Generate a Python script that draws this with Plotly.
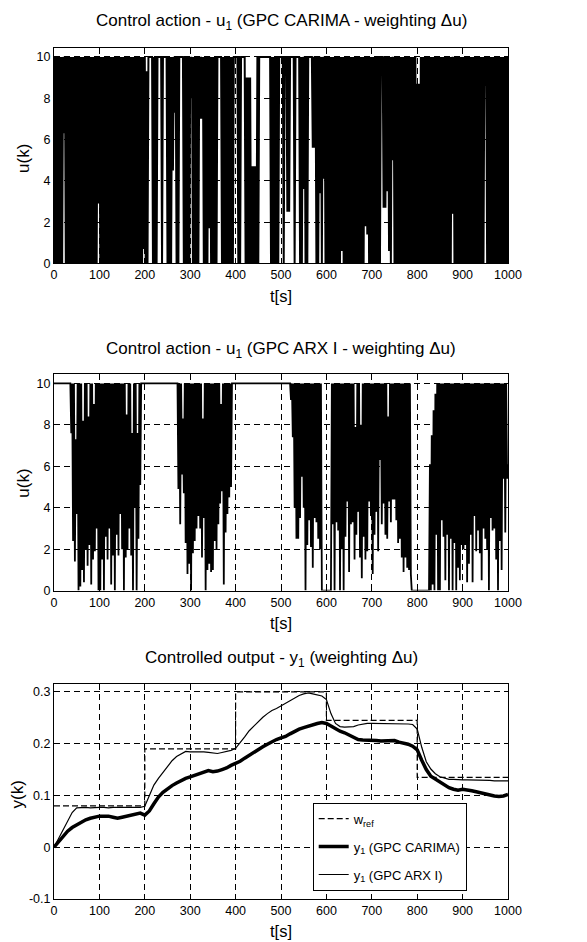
import plotly.graph_objects as go

# ---------------- data ----------------
t_u = list(range(0, 1001, 2))          # control samples [s]

u_carima = [
    10,0,10,0,10,0,10,0,10,0,10,6.3,10,0,10,0,10,0,10,0,
    10,0,10,0,10,0,10,0,10,0,10,0,10,0,10,0,10,0,10,0,
    10,0,10,0,10,0,10,0,10,2.9,10,0,10,0,10,0,10,0,10,0,
    10,0,10,0,10,0,10,0,10,0,10,0,10,0,10,0,10,0,10,0,
    10,0,10,0,10,0,10,0,10,0,10,0,10,0,10,0,10,0,10,0.7,
    10,0,9.3,0,10,10,10,10,10,0,10,0,10,0,10,10,10,10,10,0,
    10,10,10,10,10,0,10,0,10,0,10,4.5,10,7.3,10,0,10,0,10,10,
    10,10,10,0,10,0,10,0,10,0,10,8,10,0,10,0,10,0,10,0,
    10,7,10,7,10,0,10,0,10,0,10,1.7,10,0,10,0,10,0,10,0,
    10,10,10,10,10,0,10,0,10,0,10,0,10,0,10,0,10,0,10,10,
    10,10,10,0,10,0,10,10,10,10,10,0,9,0,9,0,9,0,4.7,0,
    4.7,0,4.7,0,10,0,10,10,10,10,10,10,10,10,10,10,10,10,10,0,
    10,0,10,0,10,0,10,0,10,10,10,10,10,0,10,10,10,2.5,10,2.5,
    10,10,10,10,10,0,10,10,10,10,10,0,10,0,10,3.6,10,0,10,0,
    10,10,10,10,10,5.6,10,5.6,10,0,10,0,10,3.4,10,0,10,4.1,10,0,
    10,0,10,0,10,0,10,0,10,0,10,0,10,0,10,0,10,0.6,10,0,
    10,0,10,0,10,0,10,0,10,0,10,0,10,0,10,0,10,0,10,0,
    10,0,10,1.8,10,1.4,10,0,10,0,10,0,10,0,10,0,10,0,10,0,
    10,10,10,2.7,10,2.7,10,3.5,10,0.6,10,0,10,5,10,0,10,0,10,0,
    10,0,10,0,10,0,10,0,10,0,10,0,10,0,10,0,10,0,10,0,
    8.7,0,8.7,0,10,0,10,0,10,0,10,0,10,0,10,0,10,0,10,0,
    10,0,10,0,10,0,10,0,10,0,10,0,10,0,10,0,10,0,10,2.4,
    10,0,10,0,10,0,10,0,10,0,10,0,10,0,10,0,10,0,10,0,
    10,0,10,0,10,0,10,0,10,0,10,0,10,0,10,8.6,10,0,10,0,
    10,0,10,0,10,0,10,0,10,0,10,0,10,0,10,0,10,0,10,0,
    10,
]

u_arx = [
    10,10,10,10,10,10,10,10,10,10,10,10,10,10,10,10,10,10,10,7.6,
    10,2.4,10,1.4,7.3,3.7,10,0,10,0.2,10,1.0,8.2,0.4,10,2.0,10,1.2,8.4,2.2,
    10,0.3,10,1.5,9.0,1.9,10,3.0,10,0,10,0,10,1.5,10,0,10,2.6,10,1.5,
    10,3.0,10,0.3,10,1.7,10,0,10,2.7,10,1.7,10,3.7,10,2.0,10,0,10,1.6,
    8.5,2.0,10,3.0,10,1.7,7.6,0,10,4.0,10,0,7.6,2.5,10,5.1,10,10,10,10,
    10,10,10,10,10,10,10,10,10,10,10,10,10,10,10,10,10,10,10,10,
    10,10,10,10,10,10,10,10,10,10,10,10,10,10,10,10,10,4.9,10,3.2,
    10,5.6,8.3,4.7,10,2.3,10,0.8,10,1.3,10,0,10,1.8,10,2.4,10,3.0,10,3.6,
    10,3.0,10,1.6,8.3,3.5,10,0,10,1.0,10,1.3,10,0.9,10,1.0,10,2.4,10,2.0,
    10,3.2,10,4.2,9.0,4.8,10,0.3,10,2.8,10,3.7,10,4.5,10,5.0,10,10,10,10,
    10,10,10,10,10,10,10,10,10,10,10,10,10,10,10,10,10,10,10,10,
    10,10,10,10,10,10,10,10,10,10,10,10,10,10,10,10,10,10,10,10,
    10,10,10,10,10,10,10,10,10,10,10,10,10,10,10,10,10,10,10,10,
    10,9.2,10,7.4,10,4.0,10,2.5,10,2.5,10,3.5,10,5.5,10,4.0,10,0,10,2.2,
    10,3.4,10,2.1,10,1.1,10,3.5,10,3.3,10,2.5,10,2.0,10,0,0,0,0,0,
    0,0,0,0,0,0,10,3.2,10,0,10,3.3,10,2.9,10,0,10,2.0,10,0,
    10,2.6,10,4.3,10,0.9,10,3.2,10,3.3,10,1.5,7.9,2.7,10,3.8,10,1.6,8.0,0.6,
    10,2.6,10,1.5,10,1.9,10,4.3,10,3.6,10,0.8,10,2.7,10,3.8,10,1.9,10,6.3,
    10,3.2,10,4.2,10,2.7,10,2.5,8.4,4.3,10,3.3,10,4.4,10,4.4,10,3.4,10,2.3,
    10,2.5,10,1.6,10,0.9,10,1.6,10,1.1,10,1.0,10,0.8,0,0,0,0,0,0,
    0,0,0,0,0,0,0,0,0,0,0,0,0,0,6.1,0,7.5,0.3,8.7,0,
    9.5,2.7,10,0,10,0,10,3.4,10,2.6,10,0.5,10,2.7,10,0,10,2.5,10,0,
    10,2.3,10,0,10,1.1,10,0.5,10,2.2,10,2.0,10,2.2,10,0.4,10,1.3,10,2.7,
    10,0.4,10,3.6,10,1.9,10,2.9,10,1.8,10,0.5,10,3.0,10,2.5,10,2.0,10,0,
    10,3.5,10,2.9,10,3.0,10,1.5,10,0,10,2.4,10,1.0,10,5.4,10,2.8,10,5.4,
    6.1,
]

t_y = list(range(0, 1001, 10))          # output samples [s]

y_carima = [
    0.0,0.01,0.022,0.031,0.038,0.043,0.048,0.053,0.056,0.058,
    0.06,0.06,0.06,0.058,0.056,0.058,0.06,0.062,0.064,0.066,
    0.062,0.07,0.084,0.097,0.106,0.113,0.119,0.124,0.129,0.133,
    0.136,0.139,0.143,0.146,0.148,0.146,0.147,0.15,0.153,0.158,
    0.162,0.166,0.172,0.178,0.184,0.189,0.194,0.199,0.204,0.208,
    0.211,0.214,0.219,0.224,0.228,0.231,0.234,0.236,0.239,0.241,
    0.239,0.234,0.229,0.224,0.221,0.217,0.212,0.208,0.207,0.207,
    0.207,0.206,0.205,0.205,0.206,0.206,0.203,0.201,0.199,0.195,
    0.188,0.168,0.15,0.137,0.131,0.125,0.12,0.115,0.112,0.11,
    0.112,0.111,0.109,0.107,0.105,0.103,0.1,0.099,0.098,0.099,
    0.102,
]

y_arx = [
    0.0,0.017,0.035,0.052,0.067,0.076,0.077,0.077,0.076,0.077,
    0.077,0.077,0.076,0.077,0.077,0.077,0.077,0.078,0.077,0.077,
    0.079,0.1,0.12,0.133,0.145,0.155,0.167,0.175,0.18,0.185,
    0.184,0.184,0.185,0.184,0.183,0.182,0.181,0.183,0.185,0.187,
    0.191,0.201,0.213,0.225,0.234,0.243,0.251,0.258,0.264,0.268,
    0.273,0.278,0.283,0.288,0.293,0.296,0.298,0.296,0.294,0.292,
    0.285,0.258,0.239,0.233,0.232,0.232,0.233,0.236,0.238,0.239,
    0.239,0.239,0.238,0.239,0.239,0.238,0.239,0.238,0.238,0.237,
    0.228,0.193,0.165,0.151,0.142,0.136,0.133,0.131,0.131,0.130,
    0.130,0.130,0.130,0.130,0.129,0.129,0.129,0.128,0.128,0.127,
    0.128,
]

w_t = [0, 200, 400, 600, 800, 1000]
w_ref = [0.08, 0.19, 0.30, 0.245, 0.135, 0.135]

x_ticks = [0, 100, 200, 300, 400, 500, 600, 700, 800, 900, 1000]
u_ticks = [0, 2, 4, 6, 8, 10]
y_ticks = [-0.1, 0, 0.1, 0.2, 0.3]
y_ticklabels = ["-0.1", "0", "0.1", "0.2", "0.3"]

assert len(u_carima) == len(t_u) and len(u_arx) == len(t_u)
assert len(y_carima) == len(t_y) and len(y_arx) == len(t_y)

# ---------------- figure ----------------
FONT = "Liberation Sans, Arial, sans-serif"
OFF = 8                     # page body margin of the html page
W, H = 587 - OFF, 942 - OFF
# plot box in page pixels
LEFT, RIGHT, TOP, BOTTOM = 54.3, 508.3, 47.7, 899.3
ML = LEFT - OFF
MR = W - (RIGHT - OFF)
MT = TOP - OFF
MB = H - (BOTTOM - OFF)


def py(ypx):
    """page pixel row -> paper fraction"""
    return (BOTTOM - ypx) / (BOTTOM - TOP)


def px(xpx):
    return (xpx - LEFT) / (RIGHT - LEFT)


fig = go.Figure()

fig.add_trace(go.Scatter(x=t_u, y=u_carima, mode="lines", xaxis="x", yaxis="y",
                         line=dict(color="black", width=2, simplify=False),
                         showlegend=False, hoverinfo="skip"))
fig.add_trace(go.Scatter(x=t_u, y=u_arx, mode="lines", xaxis="x2", yaxis="y2",
                         line=dict(color="black", width=1.8, simplify=False),
                         showlegend=False, hoverinfo="skip"))

fig.add_trace(go.Scatter(x=w_t, y=w_ref, mode="lines", xaxis="x3", yaxis="y3",
                         line=dict(color="black", width=1.2, dash="6px,3px", shape="hv"),
                         name="w<sub>ref</sub>", legendgroup="a"))
fig.add_trace(go.Scatter(x=t_y, y=y_carima, mode="lines", xaxis="x3", yaxis="y3",
                         line=dict(color="black", width=3.5),
                         name="y<sub>1</sub> (GPC CARIMA)", legendgroup="b"))
fig.add_trace(go.Scatter(x=t_y, y=y_arx, mode="lines", xaxis="x3", yaxis="y3",
                         line=dict(color="black", width=1.2),
                         name="y<sub>1</sub> (GPC ARX I)", legendgroup="c"))

tickfont = dict(family=FONT, size=12.5, color="black")
common = dict(showline=True, linecolor="black", linewidth=1, mirror="ticks",
              ticks="inside", ticklen=4, tickcolor="black", tickwidth=1,
              showgrid=True, gridcolor="black", gridwidth=0.8, griddash="6px,4px",
              zeroline=False, tickfont=tickfont)

xcommon = dict(common, range=[0, 1000], tickvals=x_ticks,
               ticktext=[str(v) for v in x_ticks])

dom1 = [py(263.3), 1.0]
dom2 = [py(590.7), py(374)]
dom3 = [0.0, py(684)]

fig.update_layout(
    width=W, height=H,
    margin=dict(l=ML, r=MR, t=MT, b=MB, autoexpand=False),
    paper_bgcolor="white", plot_bgcolor="white",
    font=dict(family=FONT, color="black"),
    xaxis=dict(xcommon, domain=[0, 1], anchor="y"),
    yaxis=dict(common, domain=dom1, anchor="x", range=[0, 10.43],
               tickvals=u_ticks, ticktext=[str(v) for v in u_ticks]),
    xaxis2=dict(xcommon, domain=[0, 1], anchor="y2"),
    yaxis2=dict(common, domain=dom2, anchor="x2", range=[0, 10.45],
                tickvals=u_ticks, ticktext=[str(v) for v in u_ticks]),
    xaxis3=dict(xcommon, domain=[0, 1], anchor="y3"),
    yaxis3=dict(common, domain=dom3, anchor="x3", range=[-0.1, 0.3155],
                tickvals=y_ticks, ticktext=y_ticklabels),
    legend=dict(x=px(313), y=py(803), xanchor="left", yanchor="top",
                xref="paper", yref="paper",
                bgcolor="white", bordercolor="black", borderwidth=1,
                font=dict(family=FONT, size=13, color="black"),
                tracegroupgap=8, traceorder="grouped"),
    showlegend=True,
)

titles = [
    ("Control action - u<sub>1</sub> (GPC CARIMA - weighting Δu)", 22),
    ("Control action - u<sub>1</sub> (GPC ARX I - weighting Δu)", 350),
    ("Controlled output - y<sub>1</sub> (weighting Δu)", 659),
]
for txt, ypix in titles:
    fig.add_annotation(text=txt, x=0.5, y=py(ypix), xref="paper", yref="paper",
                       xanchor="center", yanchor="middle", showarrow=False,
                       font=dict(family=FONT, size=17, color="black"))

for ypix in (295.5, 622.7, 931.5):
    fig.add_annotation(text="t[s]", x=0.5, y=py(ypix), xref="paper", yref="paper",
                       xanchor="center", yanchor="middle", showarrow=False,
                       font=dict(family=FONT, size=16.5, color="black"))

for txt, xpix, ypix in (("u(k)", 24, 158), ("u(k)", 24, 483), ("y(k)", 18, 795)):
    fig.add_annotation(text=txt, x=px(xpix), y=py(ypix), xref="paper", yref="paper",
                       xanchor="center", yanchor="middle", showarrow=False,
                       textangle=-90,
                       font=dict(family=FONT, size=17, color="black"))

fig.write_html("out.html")
